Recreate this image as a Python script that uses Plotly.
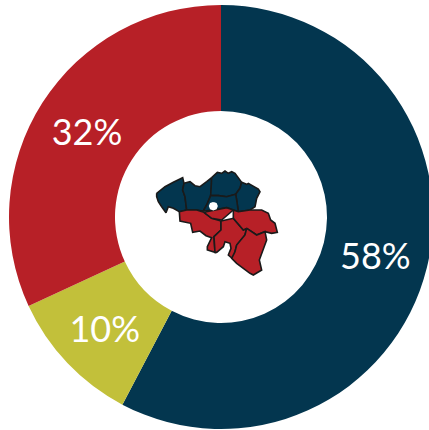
import plotly.graph_objects as go

# Donut data
categories = ["Flanders", "Other", "Wallonia"]
shares = [57.7, 10.4, 31.9]
slice_colors = ["#03364F", "#C2C03A", "#B72027"]

# Map outlines of the Belgian provinces (drawn in map units)
navy = "#03364F"
red = "#B72027"
outline = "#1A1A1A"

west_flanders = [(50,115),(75,95),(100,82),(128,68),(132,85),(128,105),(135,125),(140,165),(118,170),(100,160),(85,155),(78,173),(65,155),(55,140),(50,125)]
east_flanders = [(132,85),(150,80),(165,92),(180,95),(200,80),(215,68),(215,90),(212,122),(200,150),(190,168),(170,165),(140,165),(135,125),(128,105)]
antwerp = [(215,68),(225,60),(232,52),(245,55),(255,48),(265,55),(275,50),(285,55),(295,68),(305,82),(300,100),(287,118),(260,125),(235,122),(212,122),(215,90)]
limburg = [(305,82),(320,88),(325,85),(338,92),(355,102),(360,110),(350,130),(345,155),(330,165),(295,170),(290,135),(287,118),(300,100)]
flemish_brabant = [(212,122),(235,122),(260,125),(287,118),(290,135),(295,170),(280,165),(260,158),(225,165),(190,168),(200,150)]
hainaut = [(118,170),(140,165),(170,165),(192,172),(215,190),(243,198),(243,225),(222,245),(225,292),(202,285),(202,275),(215,248),(198,242),(180,228),(158,232),(152,205),(120,198)]
walloon_brabant = [(192,172),(225,165),(260,158),(280,165),(245,195),(215,190)]
namur = [(243,198),(280,190),(310,225),(320,220),(315,240),(290,270),(285,290),(282,315),(265,300),(273,280),(270,265),(255,260),(250,275),(230,292),(225,292),(222,245),(243,225)]
liege = [(280,165),(295,170),(330,165),(365,165),(385,175),(392,195),(405,205),(412,232),(395,235),(385,232),(375,230),(350,240),(320,220),(310,225),(280,190)]
luxembourg = [(320,220),(350,240),(375,230),(380,255),(358,315),(365,345),(340,360),(330,355),(290,325),(275,310),(285,290),(290,270),(315,240)]
brussels = [(220,143),(228,146),(231,153),(228,161),(220,164),(212,161),(209,153),(212,146)]

regions = [
    ("West Flanders", west_flanders, navy),
    ("East Flanders", east_flanders, navy),
    ("Antwerp", antwerp, navy),
    ("Limburg", limburg, navy),
    ("Flemish Brabant", flemish_brabant, navy),
    ("Hainaut", hainaut, red),
    ("Walloon Brabant", walloon_brabant, red),
    ("Namur", namur, red),
    ("Liège", liege, red),
    ("Luxembourg", luxembourg, red),
    ("Brussels", brussels, "#FFFFFF"),
]

fig = go.Figure()
fig.add_trace(go.Pie(
    labels=categories, values=shares, hole=0.5, sort=False, direction="clockwise",
    rotation=0, marker=dict(colors=slice_colors, line=dict(width=0)),
    textinfo="percent", textposition="inside", insidetextorientation="horizontal",
    texttemplate="%{percent:.0%}",
    textfont=dict(family="Lato", size=36, color="#FFFFFF"),
    domain=dict(x=[9/440, 433/440], y=[1/430, 425/430]), showlegend=False, hoverinfo="label+percent",
))
for name, pts, color in regions:
    xs = [p[0] for p in pts] + [pts[0][0]]
    ys = [p[1] for p in pts] + [pts[0][1]]
    fig.add_trace(go.Scatter(
        x=xs, y=ys, mode="lines", fill="toself", fillcolor=color, name=name,
        line=dict(color=outline if color != "#FFFFFF" else "#FFFFFF", width=1.6),
        showlegend=False, hoverinfo="name",
    ))

fig.update_layout(
    width=440, height=430, margin=dict(l=0, r=0, t=0, b=0),
    paper_bgcolor="#FFFFFF", plot_bgcolor="rgba(0,0,0,0)",
    xaxis=dict(visible=False, range=[-420, 900], domain=[0, 1], fixedrange=True),
    yaxis=dict(visible=False, range=[825, -465], domain=[0, 1], fixedrange=True),
)
fig.write_html("out.html", post_script="document.documentElement.style.overflow='hidden';document.body.style.overflow='hidden';document.body.style.margin='0';",
               config={"displayModeBar": False})
